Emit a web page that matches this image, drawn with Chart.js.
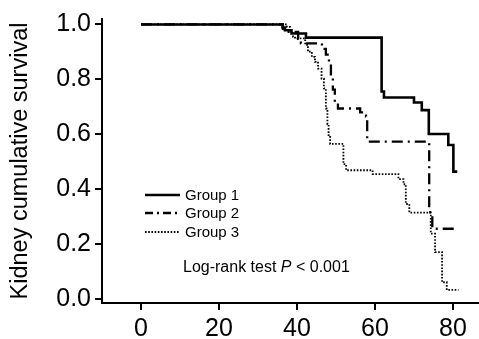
<!DOCTYPE html>
<html>
<head>
<meta charset="utf-8">
<script src="https://cdn.jsdelivr.net/npm/chart.js@4"></script>
<style>
html,body{margin:0;padding:0;background:#fff;}
#wrap{width:479px;height:339px;position:relative;}
</style>
</head>
<body>
<div id="wrap"><canvas id="c" width="479" height="339"></canvas></div>
<script>
// Data (months, cumulative survival)
const seriesNames = ["Group 1", "Group 2", "Group 3"];
const g1Time = [0, 36.3, 36.9, 38.6, 42.3, 61.7, 62.3, 70.0, 72.0, 73.8, 78.8, 80.1, 81.1];
const g1Surv = [1.0, 0.989, 0.979, 0.967, 0.952, 0.756, 0.734, 0.716, 0.688, 0.601, 0.561, 0.464, 0.464];
const g2Time = [0, 36.4, 37.4, 40.3, 41.0, 46.4, 47.4, 48.2, 48.7, 49.2, 49.7, 50.5, 56.2, 57.7, 58.0, 73.9, 74.7, 81.3];
const g2Surv = [1.0, 0.984, 0.973, 0.948, 0.931, 0.911, 0.890, 0.857, 0.810, 0.763, 0.716, 0.694, 0.680, 0.665, 0.573, 0.316, 0.256, 0.256];
const g3Time = [0, 37.4, 38.2, 39.0, 39.5, 42.1, 42.8, 43.8, 44.6, 45.4, 46.3, 46.9, 47.4, 47.8, 48.1, 48.5, 51.9, 52.6, 59.4, 66.0, 67.3, 67.9, 68.8, 74.3, 75.4, 77.2, 78.4, 81.4];
const g3Surv = [1.0, 0.991, 0.973, 0.955, 0.949, 0.926, 0.901, 0.882, 0.864, 0.839, 0.803, 0.767, 0.694, 0.637, 0.597, 0.565, 0.491, 0.469, 0.455, 0.437, 0.418, 0.346, 0.315, 0.238, 0.171, 0.061, 0.033, 0.033];
const xTicks = [0, 20, 40, 60, 80];
const yTicks = [0.0, 0.2, 0.4, 0.6, 0.8, 1.0];
const yTitle = "Kidney cumulative survival";
const testLabel = ["Log-rank test ", "P", " < 0.001"];

const FONT = "'Liberation Sans', Arial, sans-serif";
const dashes = [[], [11, 5, 2, 5], [1.6, 1.6]];
const widths = [2.6, 2.3, 1.8];

function pts(t, s) { return t.map((v, i) => ({x: v, y: s[i]})); }

const datasets = [[g1Time, g1Surv], [g2Time, g2Surv], [g3Time, g3Surv]].map((d, i) => ({
  label: seriesNames[i],
  data: pts(d[0], d[1]),
  borderColor: '#000',
  borderWidth: widths[i],
  borderDash: dashes[i],
  stepped: true,
  pointRadius: 0,
  fill: false,
  borderJoinStyle: 'miter',
  borderCapStyle: 'butt'
}));

const overlay = {
  id: 'overlay',
  afterDraw(chart) {
    const ctx = chart.ctx;
    ctx.save();
    // legend
    const ly = [195, 213, 232];
    const legDash = [[], [8, 4, 2, 4], [1.6, 1.6]];
    seriesNames.forEach((n, i) => {
      ctx.beginPath();
      ctx.setLineDash(legDash[i]);
      ctx.lineWidth = widths[i];
      ctx.strokeStyle = '#000';
      ctx.moveTo(145, ly[i]);
      ctx.lineTo(180, ly[i]);
      ctx.stroke();
      ctx.setLineDash([]);
      ctx.fillStyle = '#000';
      ctx.font = "15px " + FONT;
      ctx.textBaseline = 'middle';
      ctx.textAlign = 'left';
      ctx.fillText(n, 185, ly[i] + 1);
    });
    // log-rank annotation
    let x = 183;
    const y = 268;
    ctx.textBaseline = 'middle';
    testLabel.forEach((s, i) => {
      ctx.font = (i === 1 ? "italic " : "") + "16px " + FONT;
      ctx.fillText(s, x, y);
      x += ctx.measureText(s).width;
    });
    ctx.restore();
  }
};

new Chart(document.getElementById('c'), {
  type: 'line',
  data: {datasets},
  plugins: [overlay],
  options: {
    responsive: false,
    animation: false,
    events: [],
    layout: {padding: {top: 17, right: 0, left: 0, bottom: 0}},
    plugins: {legend: {display: false}, tooltip: {enabled: false}},
    scales: {
      x: {
        type: 'linear',
        min: -10, max: 86.67,
        afterBuildTicks(s) { s.ticks = xTicks.map(v => ({value: v})); },
        afterFit(s) { s.height = 36; },
        grid: {display: true, drawOnChartArea: false, drawTicks: true, tickLength: 7, color: '#000', lineWidth: 2},
        border: {display: true, color: '#000', width: 2},
        ticks: {color: '#000', font: {family: FONT, size: 25}, padding: 4, maxRotation: 0, callback: v => String(v)}
      },
      y: {
        type: 'linear',
        min: -0.0145, max: 1.0199,
        afterBuildTicks(s) { s.ticks = yTicks.map(v => ({value: v})); },
        afterFit(s) { s.width = 102; },
        grid: {display: true, drawOnChartArea: false, drawTicks: true, tickLength: 7, color: '#000', lineWidth: 2},
        border: {display: true, color: '#000', width: 2},
        title: {display: true, text: yTitle, color: '#000', font: {family: FONT, size: 23.5}, padding: {top: 6, bottom: 0}},
        ticks: {color: '#000', font: {family: FONT, size: 25}, padding: 4, callback: v => v.toFixed(1)}
      }
    }
  }
});
</script>
</body>
</html>
